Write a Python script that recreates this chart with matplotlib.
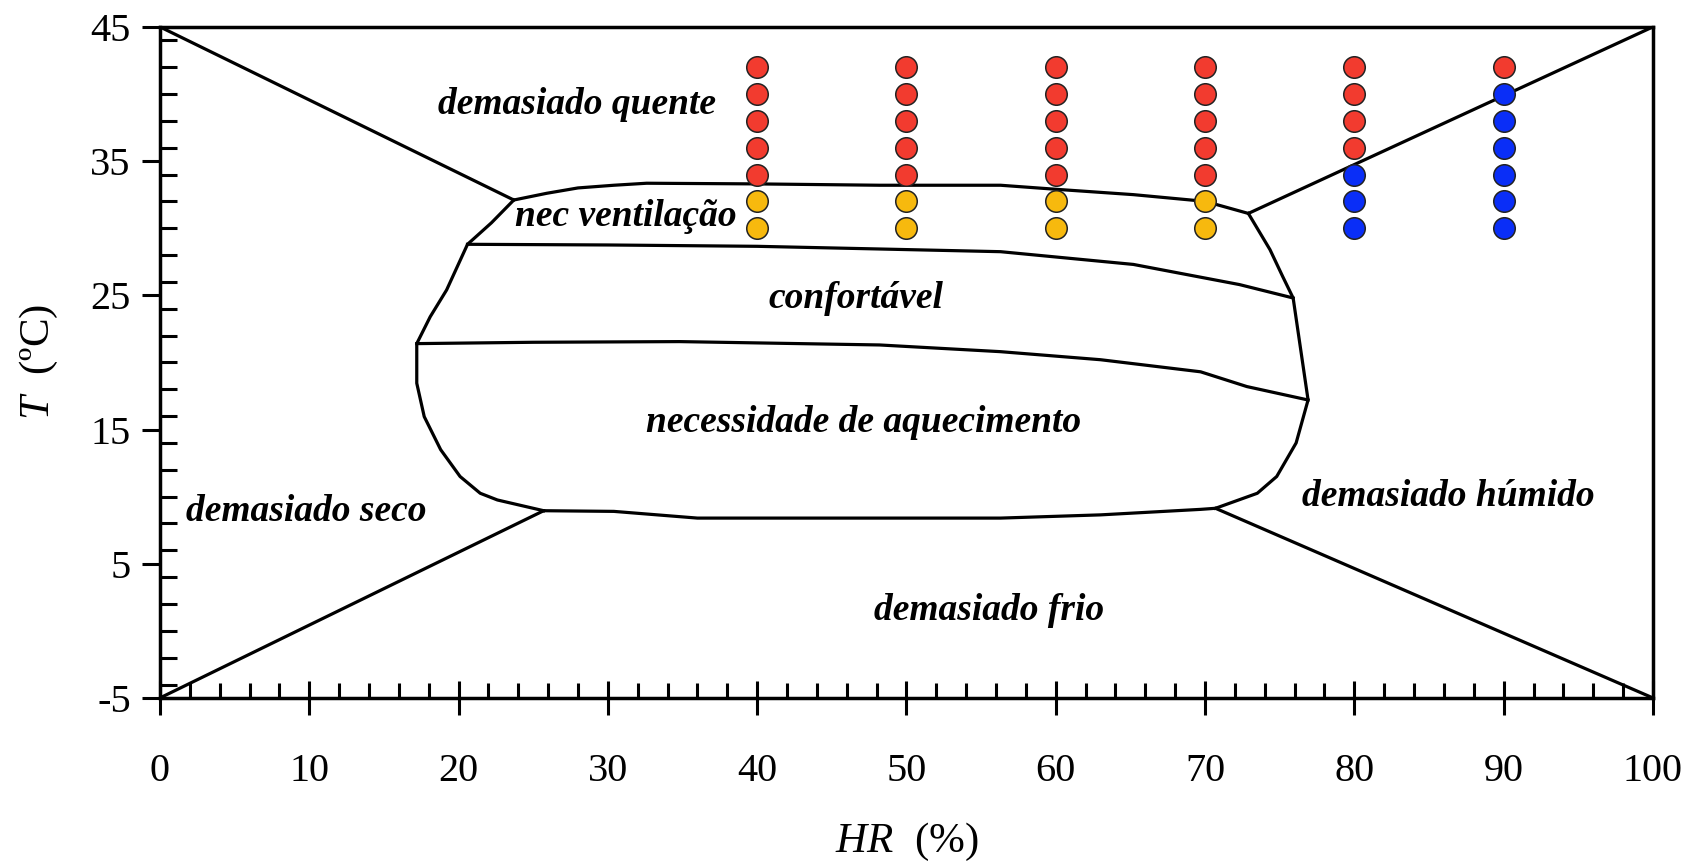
import matplotlib
matplotlib.use("Agg")
import matplotlib.pyplot as plt
from matplotlib.ticker import MultipleLocator

plt.rcParams['font.family'] = ['Liberation Serif', 'DejaVu Serif']
plt.rcParams['mathtext.fontset'] = 'custom'
plt.rcParams['mathtext.it'] = 'Liberation Serif:italic'
plt.rcParams['mathtext.rm'] = 'Liberation Serif'
plt.rcParams['axes.unicode_minus'] = False

# ---- data ----
hr_levels = [40, 50, 60, 70, 80, 90]
t_levels = [30, 32, 34, 36, 38, 40, 42]
# state per column (bottom to top): 'v' ventilation, 'q' too hot, 'h' too humid
states = {
    40: ['v', 'v', 'q', 'q', 'q', 'q', 'q'],
    50: ['v', 'v', 'q', 'q', 'q', 'q', 'q'],
    60: ['v', 'v', 'q', 'q', 'q', 'q', 'q'],
    70: ['v', 'v', 'q', 'q', 'q', 'q', 'q'],
    80: ['h', 'h', 'h', 'q', 'q', 'q', 'q'],
    90: ['h', 'h', 'h', 'h', 'h', 'h', 'q'],
}
state_colors = {'q': '#F23B2F', 'v': '#F7B90E', 'h': '#0A2EF7'}

# outer envelope lines (corners to comfort zone)
corner_lines = [
    ([0, 23.7], [45, 32.1]),
    ([0, 25.7], [-5, 8.95]),
    ([100, 72.9], [45, 31.1]),
    ([100, 70.7], [-5, 9.13]),
]
# comfort zone boundaries
top_hr = [23.7, 25.9, 28.0, 30.4, 32.6, 40.0, 48.2, 56.3, 60.0, 65.2, 70.0, 72.9]
top_t = [32.1, 32.6, 33.0, 33.2, 33.35, 33.3, 33.2, 33.2, 32.9, 32.5, 32.0, 31.1]
vent_hr = [20.6, 30.0, 40.0, 48.2, 56.3, 65.2, 72.3, 75.9]
vent_t = [28.8, 28.75, 28.65, 28.45, 28.25, 27.3, 25.8, 24.8]
comf_hr = [17.2, 25.0, 34.8, 48.2, 56.3, 63.0, 69.7, 72.8, 76.9]
comf_t = [21.4, 21.5, 21.55, 21.3, 20.8, 20.2, 19.3, 18.2, 17.2]
left_hr = [23.7, 22.2, 20.6, 19.2, 18.1, 17.2, 17.2, 17.7, 18.8, 20.1, 21.45, 22.6, 25.7]
left_t = [32.1, 30.4, 28.8, 25.4, 23.4, 21.4, 18.45, 15.96, 13.5, 11.5, 10.25, 9.75, 8.95]
bottom_hr = [25.7, 30.4, 36.0, 48.2, 56.3, 63.0, 69.7, 70.7]
bottom_t = [8.95, 8.9, 8.4, 8.4, 8.4, 8.64, 9.05, 9.13]
right_hr = [72.9, 74.35, 75.2, 75.9, 76.9, 76.1, 74.8, 73.5, 70.7]
right_t = [31.1, 28.4, 26.4, 24.8, 17.2, 14.0, 11.5, 10.25, 9.13]

region_labels = [
    ("demasiado quente", 27.9, 39.2),
    ("nec ventilação", 31.2, 30.9),
    ("confortável", 46.6, 24.75),
    ("necessidade de aquecimento", 47.1, 15.5),
    ("demasiado seco", 9.8, 8.9),
    ("demasiado húmido", 86.3, 10.0),
    ("demasiado frio", 55.5, 1.5),
]

x_ticks = [0, 10, 20, 30, 40, 50, 60, 70, 80, 90, 100]
y_ticks = [-5, 5, 15, 25, 35, 45]

# ---- figure ----
fig = plt.figure(figsize=(16.91, 8.67), dpi=100)
ax = fig.add_axes([0.0946, 0.195, 0.8829, 0.774])

lc = 'black'
lw = 2.3
for xs, ys in corner_lines:
    ax.plot(xs, ys, color=lc, lw=lw, solid_capstyle='round')
for xs, ys in [(top_hr, top_t), (vent_hr, vent_t), (comf_hr, comf_t),
               (left_hr, left_t), (bottom_hr, bottom_t), (right_hr, right_t)]:
    ax.plot(xs, ys, color=lc, lw=lw, solid_joinstyle='round')

for hr in hr_levels:
    for t, s in zip(t_levels, states[hr]):
        ax.scatter([hr], [t], s=240, color=state_colors[s], edgecolor='#222222',
                   linewidth=1.1, zorder=5)

for txt, x, y in region_labels:
    ax.text(x, y, txt, ha='center', va='center', fontsize=27,
            fontweight='bold', fontstyle='italic')

ax.set_xlim(0, 100)
ax.set_ylim(-5, 45)
ax.set_xticks(x_ticks)
ax.set_yticks(y_ticks)
ax.xaxis.set_minor_locator(MultipleLocator(2))
ax.yaxis.set_minor_locator(MultipleLocator(2))
ax.tick_params(axis='x', which='major', direction='inout', length=24, width=2.2,
               labelsize=29, pad=28)
ax.tick_params(axis='x', which='minor', direction='in', length=11, width=2.2)
ax.tick_params(axis='y', which='major', direction='out', length=13, width=2.2,
               labelsize=29, pad=8)
ax.tick_params(axis='y', which='minor', direction='in', length=12, width=2.2)
for sp in ax.spines.values():
    sp.set_linewidth(2.5)

ax.set_xlabel(r'$HR$  (%)', fontsize=31, labelpad=22)
ax.set_ylabel(r'$T$  (ºC)', fontsize=31, labelpad=22)

fig.savefig('out.png', dpi=100)
